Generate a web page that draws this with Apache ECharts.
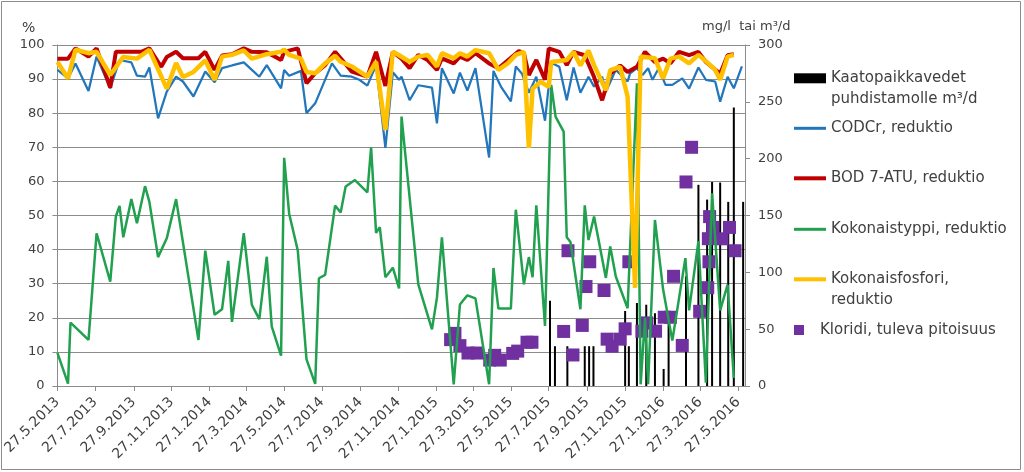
<!DOCTYPE html>
<html>
<head>
<meta charset="utf-8">
<script src="https://cdn.jsdelivr.net/npm/echarts@6/dist/echarts.min.js"></script>
<style>
html,body{margin:0;padding:0;background:#fff;}
#chart{width:1024px;height:472px;}
</style>
</head>
<body>
<div id="chart"></div>
<script>
// ---- data ----
const xTickLabels = ['27.5.2013','27.7.2013','27.9.2013','27.11.2013','27.1.2014','27.3.2014','27.5.2014','27.7.2014','27.9.2014','27.11.2014','27.1.2015','27.3.2015','27.5.2015','27.7.2015','27.9.2015','27.11.2015','27.1.2016','27.3.2016','27.5.2016'];
const leftTicks = [0,10,20,30,40,50,60,70,80,90,100];
const rightTicks = [0,50,100,150,200,250,300];

const lineDates = [
'2013-05-27','2013-06-13','2013-06-17','2013-06-25','2013-07-16','2013-07-29','2013-08-20','2013-08-29','2013-09-04','2013-09-10',
'2013-09-23','2013-10-02','2013-10-09','2013-10-15','2013-10-22','2013-11-05','2013-11-10','2013-11-19','2013-12-04','2013-12-15',
'2014-01-01','2014-01-09','2014-01-20','2014-02-04','2014-02-16','2014-02-26','2014-03-04',
'2014-03-23','2014-04-05','2014-04-17','2014-04-29','2014-05-07','2014-05-22','2014-05-27','2014-06-04','2014-06-18','2014-06-23',
'2014-07-02','2014-07-16','2014-07-22','2014-08-01','2014-08-12','2014-08-17','2014-08-26','2014-09-03','2014-09-13','2014-09-18',
'2014-09-25','2014-10-08','2014-10-14','2014-10-22','2014-10-28','2014-11-06','2014-11-18','2014-11-28','2014-12-02',
'2014-12-15','2014-12-29','2015-01-13','2015-01-20','2015-01-28','2015-02-05','2015-02-24','2015-03-06','2015-03-18','2015-03-31',
'2015-04-22','2015-04-29','2015-05-07','2015-05-11','2015-05-22','2015-05-27','2015-06-04','2015-06-09','2015-06-14','2015-06-17',
'2015-06-25','2015-07-01','2015-07-07','2015-07-14','2015-07-21','2015-07-27','2015-07-31','2015-08-07','2015-08-13','2015-08-20',
'2015-08-25','2015-08-31','2015-09-05',
'2015-09-16','2015-09-23','2015-09-29','2015-10-08','2015-10-21','2015-10-27','2015-11-03','2015-11-12','2015-11-19','2015-12-01',
'2015-12-05','2015-12-13','2015-12-16','2015-12-22','2015-12-25','2015-12-29','2016-01-03','2016-01-10','2016-01-14','2016-01-20',
'2016-01-27','2016-01-31','2016-02-08','2016-02-11','2016-02-22','2016-02-27','2016-03-03','2016-03-09','2016-03-24','2016-04-05',
'2016-04-09','2016-04-15','2016-04-20','2016-04-28','2016-05-10','2016-05-20','2016-06-02'
];
const codValues = [
92.7,90.2,null,94.6,86.5,96.6,87.3,null,95.6,null,
94.9,91,null,90.7,93.4,78.5,null,86.3,90.7,89.3,
84.9,null,92.2,89.1,93.2,null,94,
94.9,92.7,90.7,94.1,null,87.3,92.7,91,null,92.4,
80,82.9,null,null,94.6,null,91,null,90.7,null,
89.8,88.1,null,94.1,null,69.8,92,89.8,90.7,
83.8,88.2,null,87.5,77,93.2,85.8,91.9,86.6,93.2,
67,92.4,null,87.8,null,83.5,93.7,null,91.6,null,
86,null,90.7,null,77.8,null,94.8,null,93.6,null,
83.8,null,93.4,
86,null,90.7,87.8,90.7,86.3,null,92.7,null,89.3,
91.7,null,93.2,null,91.2,null,93.2,89.8,null,93.2,
null,88.3,null,88.3,null,90.2,null,87.2,93.4,89.8,
null,null,89.3,83.4,90.7,87.3,93.7
];
const bodValues = [
96,96,null,99,96.6,99,87.5,98,null,null,
98,null,98,null,99,null,93.6,96.5,98,96.1,
null,96.1,98,92.7,96.9,null,97.3,
99,98,null,97.9,null,95.6,98,null,99,null,
88.8,91.7,null,94.1,null,98,96.1,null,92.2,null,
null,90.7,null,98,null,88,98,null,96,
93.2,97.1,95.6,null,92.7,96.1,94.6,96.6,95.6,97.6,
94.6,null,93.2,null,null,null,null,98.2,null,97.6,
91.2,null,95.6,null,89.8,99,null,null,98,null,
94.1,null,98,
null,97,null,90.6,83.8,null,91.6,null,94,92.1,
null,null,93.6,null,null,98,null,null,95,null,
96,null,94.6,null,98,null,null,97,98,95,
null,null,null,91.6,97,97.3,null
];
const nValues = [
9.7,0.7,18.6,null,13.5,44.8,30.6,49.7,52.8,43.6,
54.8,47.7,null,58.6,54,37.8,null,43.3,54.8,null,
null,13.5,39.7,20.9,22.5,36.7,18.8,
44.8,23.8,19.6,37.9,17.5,8.9,66.9,50.6,39.7,null,
7.8,0.6,31.6,32.6,null,52.9,50.9,58.5,null,60.4,
null,56.8,70,44.9,46.6,31.9,34.7,28.6,79,
null,29.8,null,16.6,25.9,43.6,0.5,23.9,26.6,25.7,
0.5,34.6,22.7,null,null,22.7,51.7,null,null,29.8,
37.8,31.9,53,null,17.6,null,88.3,79,null,74.6,
43.6,42.2,null,
22.5,53,42.8,49.7,null,31.7,40.9,32.1,null,22.8,
null,null,88.8,0.5,null,20,0.5,null,48.7,null,
28.5,null,null,13.3,null,null,37.5,22.2,42.5,1,
null,56.5,null,22.2,29.7,2.4,null
];
const pValues = [
95,90.2,null,98.6,97.6,98,91.2,null,null,96.5,
null,96,null,null,98.6,null,null,87.2,94.7,90.6,
92.1,null,95.5,89.7,96.6,null,97.1,
98.4,96,null,97.3,null,98,98.7,97.1,null,96,
92.1,91.7,null,94.6,null,96.8,95.1,null,93.7,null,
null,90.7,null,95.1,null,75.1,98,97,null,
95.1,96.6,97.1,null,93.7,97.6,96.1,97.6,96.6,98.5,
97.6,null,92.7,null,94.6,null,97.1,null,null,98,
69.8,87.2,null,89.2,null,87.7,95,null,95.3,null,
95.6,null,98,
94,null,98.4,94.1,null,86.7,92.6,null,93.6,84.8,
null,28.8,null,96.6,null,null,null,null,96.1,null,
90.2,null,96,null,96.6,null,null,94.6,97.1,null,
94.6,null,92.7,89.8,96.6,97.1,null
];

const chlorideDates = [
'2015-02-19','2015-02-26','2015-03-06','2015-03-19','2015-04-03','2015-04-23','2015-05-01','2015-05-10','2015-05-30','2015-06-07',
'2015-06-22','2015-06-30','2015-08-20','2015-08-27','2015-09-04','2015-09-19','2015-09-25','2015-10-01','2015-10-24','2015-10-29',
'2015-11-06','2015-11-19','2015-11-27','2015-12-03','2015-12-24','2016-01-01','2016-01-15','2016-01-29','2016-02-08','2016-02-13',
'2016-02-27','2016-03-04','2016-03-13','2016-03-26','2016-04-08','2016-04-09','2016-04-10','2016-04-11','2016-04-16','2016-05-01',
'2016-05-13','2016-05-22'
];
const chlorideValues = [
40.8,46.3,35.5,29,29,22.8,27,22.8,28.7,30.7,
38.5,38.5,48,119,27.3,53.3,87.5,109.3,84,41.2,
35,41.2,50.3,109.3,48.2,55.5,48.2,60.5,60.5,96.5,
35.7,179.5,210,65.7,86.5,129.6,109.3,149,139.5,129.5,
139.5,119
];

const flowDates = [
'2015-07-29','2015-08-06','2015-08-26','2015-09-23','2015-09-30','2015-10-07','2015-11-27','2015-12-03','2015-12-16','2015-12-31',
'2016-01-14','2016-01-28','2016-02-05','2016-03-04','2016-03-24','2016-04-07','2016-04-15','2016-04-28','2016-05-11','2016-05-20',
'2016-06-04'
];
const flowValues = [
75,35,35,35,35,35,66,35,73,71.5,
64,15,60,96.5,177,164,179.5,179,162,245,
162
];

// ---- helpers ----
function isoTs(s){const p=s.split('-').map(Number);return new Date(p[0],p[1]-1,p[2]).getTime();}
function fiTs(s){const p=s.split('.').map(Number);return new Date(p[2],p[1]-1,p[0]).getTime();}
function pairs(dates, vals){return dates.map((d,i)=>[isoTs(d), vals[i]]).filter(p=>p[1]!=null);}
const tickVals = xTickLabels.map(fiTs);

const FONT = 'DejaVu Sans';
const TXT = '#404040';
const GRID = '#8c8c8c';

const chart = echarts.init(document.getElementById('chart'), null, {renderer:'canvas'});

function legendItem(name, top, icon, ih, fmt){
  const o = {
    data:[name], orient:'vertical', left:794, top:top, padding:0,
    itemWidth:32, itemHeight:ih, itemGap:0, selectedMode:false, icon:icon,
    textStyle:{fontFamily:FONT, fontSize:15, color:TXT, lineHeight:21}
  };
  if (fmt) o.formatter = fmt;
  return o;
}
const SQUARE = 'path://M0,0L10,0L10,10L0,10Z';

const option = {
  animation:false,
  backgroundColor:'#fff',
  grid:{left:56, right:279, top:45, height:341, containLabel:false},
  xAxis:{
    type:'value',
    min:isoTs('2013-05-27'), max:isoTs('2016-06-07'),
    axisLine:{show:true, lineStyle:{color:GRID, width:1}},
    axisTick:{show:true, length:5, inside:false, lineStyle:{color:GRID}, customValues:tickVals},
    axisLabel:{
      customValues:tickVals, rotate:45, margin:14,
      fontFamily:FONT, fontSize:14, color:TXT,
      formatter:function(v){const i=tickVals.indexOf(v); if(i>=0) return xTickLabels[i]; const d=new Date(v); return d.getDate()+'.'+(d.getMonth()+1)+'.'+d.getFullYear();}
    },
    splitLine:{show:false}
  },
  yAxis:[
    {type:'value', position:'left', min:leftTicks[0], max:leftTicks[leftTicks.length-1], interval:10,
     axisLine:{show:true, lineStyle:{color:GRID}},
     axisTick:{show:true, length:5, lineStyle:{color:GRID}},
     axisLabel:{margin:13, fontFamily:FONT, fontSize:13, color:TXT},
     splitLine:{show:true, lineStyle:{color:GRID, width:1}}},
    {type:'value', position:'right', min:rightTicks[0], max:rightTicks[rightTicks.length-1], interval:50,
     axisLine:{show:true, lineStyle:{color:GRID}},
     axisTick:{show:true, length:5, lineStyle:{color:GRID}},
     axisLabel:{margin:13, fontFamily:FONT, fontSize:13, color:TXT},
     splitLine:{show:false}}
  ],
  legend:[
    legendItem('Kaatopaikkavedet puhdistamolle m³/d', 46.8, 'rect', 10, ()=>'\nKaatopaikkavedet\npuhdistamolle m³/d'),
    legendItem('CODCr, reduktio', 117.8, 'rect', 3),
    legendItem('BOD 7-ATU, reduktio', 167.8, 'rect', 4),
    legendItem('Kokonaistyppi, reduktio', 218.8, 'rect', 3),
    legendItem('Kokonaisfosfori, reduktio', 247.8, 'rect', 4, ()=>'\nKokonaisfosfori,\nreduktio'),
    legendItem('Kloridi, tuleva pitoisuus', 319.5, SQUARE, 10)
  ],
  graphic:[
    {type:'rect', shape:{x:1.5, y:1.5, width:1019, height:468}, style:{fill:'none', stroke:'#8c8c8c', lineWidth:1}, silent:true},
    {type:'text', left:22, top:21, style:{text:'%', font:'14px "DejaVu Sans"', fill:TXT}},
    {type:'text', left:702, top:20, style:{text:'mg/l  tai m³/d', font:'13px "DejaVu Sans"', fill:TXT}}
  ],
  series:[
    {name:'Kaatopaikkavedet puhdistamolle m³/d', type:'bar', yAxisIndex:1, barWidth:2,
     itemStyle:{color:'#000'}, data:pairs(flowDates, flowValues)},
    {name:'CODCr, reduktio', type:'line', yAxisIndex:0, symbol:'none', showSymbol:false,
     color:'#2276BB', lineStyle:{color:'#2276BB', width:2.25}, data:pairs(lineDates, codValues)},
    {name:'BOD 7-ATU, reduktio', type:'line', yAxisIndex:0, symbol:'none', showSymbol:false,
     color:'#C00000', lineStyle:{color:'#C00000', width:4}, data:pairs(lineDates, bodValues)},
    {name:'Kokonaistyppi, reduktio', type:'line', yAxisIndex:0, symbol:'none', showSymbol:false,
     color:'#21A04F', lineStyle:{color:'#21A04F', width:2.5}, data:pairs(lineDates, nValues)},
    {name:'Kokonaisfosfori, reduktio', type:'line', yAxisIndex:0, symbol:'none', showSymbol:false,
     color:'#FFC000', lineStyle:{color:'#FFC000', width:4.5}, data:pairs(lineDates, pValues)},
    {name:'Kloridi, tuleva pitoisuus', type:'scatter', yAxisIndex:1, symbol:'rect', symbolSize:13,
     itemStyle:{color:'#7030A0', opacity:1}, data:pairs(chlorideDates, chlorideValues)}
  ]
};
chart.setOption(option);
</script>
</body>
</html>
